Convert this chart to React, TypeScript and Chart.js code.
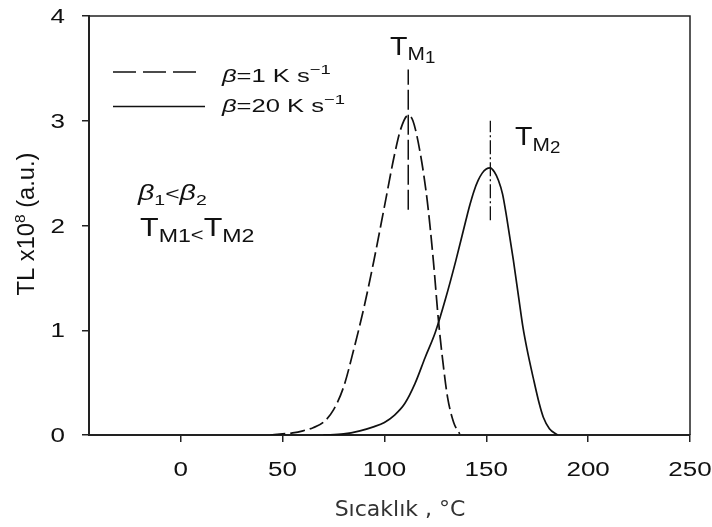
import React, { useEffect, useRef } from "react";
import { Chart, registerables } from "chart.js";
Chart.register(...registerables);

// ---- data ----
const xTicks = [0, 50, 100, 150, 200, 250];
const yTicks = [0, 1, 2, 3, 4];
const xMin = -45;
const xMax = 250;

// beta = 1 K/s (dashed)
const slowX = [44, 50, 55, 60, 65, 70, 75, 80, 85, 90, 95, 100, 105, 108, 111.6, 114, 117.6, 121, 124, 126.5, 129, 131, 134, 137];
const slowY = [0, 0.01, 0.02, 0.04, 0.07, 0.12, 0.24, 0.46, 0.82, 1.22, 1.68, 2.18, 2.68, 2.92, 3.05, 3.0, 2.69, 2.24, 1.67, 1.1, 0.65, 0.36, 0.12, 0.01];

// beta = 20 K/s (solid)
const fastX = [70, 80, 88, 95, 100, 105, 110, 115, 120, 125, 130, 135, 140, 142, 144, 146, 148, 150, 152, 154, 156, 158, 160, 163.3, 166, 168, 170, 173, 176, 178, 181, 185];
const fastY = [0, 0.01, 0.04, 0.08, 0.12, 0.19, 0.3, 0.49, 0.74, 0.98, 1.3, 1.66, 2.05, 2.2, 2.33, 2.43, 2.5, 2.54, 2.55, 2.51, 2.43, 2.3, 2.08, 1.67, 1.3, 1.03, 0.82, 0.55, 0.3, 0.17, 0.06, 0];

// peak markers
const tm1X = [111.7, 111.7];
const tm1Y = [2.15, 3.49];
const tm2X = [152, 152];
const tm2Y = [2.05, 3.0];

const yTitle = ["TL x10", "8", " (a.u.)"];
const xTitle = "Sıcaklık , °C";
const legend1 = ["β", "=1 K s", "−1"];
const legend2 = ["β", "=20 K s", "−1"];

const SANS = '"Liberation Sans", Arial, sans-serif';

type Run = { t: string; size: number; dy?: number; italic?: boolean };

function drawRuns(
  ctx: CanvasRenderingContext2D,
  x: number,
  y: number,
  runs: Run[],
  sx: number,
  align: "left" | "center" | "right" = "left",
  family: string = SANS,
  color: string = "#111"
) {
  ctx.save();
  ctx.fillStyle = color;
  ctx.textBaseline = "alphabetic";
  ctx.textAlign = "left";
  const widths = runs.map((r) => {
    ctx.font = `${r.italic ? "italic " : ""}${r.size}px ${family}`;
    return ctx.measureText(r.t).width;
  });
  const total = widths.reduce((a, b) => a + b, 0) * sx;
  const x0 = align === "center" ? x - total / 2 : align === "right" ? x - total : x;
  ctx.translate(x0, y);
  ctx.scale(sx, 1);
  let cx = 0;
  runs.forEach((r, i) => {
    ctx.font = `${r.italic ? "italic " : ""}${r.size}px ${family}`;
    ctx.fillText(r.t, cx, r.dy || 0);
    cx += widths[i];
  });
  ctx.restore();
}

const zip = (xs: number[], ys: number[]) => xs.map((x, i) => ({ x, y: ys[i] }));

const decorPlugin = {
  id: "decor",
  afterDraw(chart: any) {
    const ctx: CanvasRenderingContext2D = chart.ctx;
    const { left, right, top, bottom } = chart.chartArea;
    const xs = chart.scales.x;
    const ys = chart.scales.y;

    // frame top/right
    ctx.save();
    ctx.strokeStyle = "#222";
    ctx.lineWidth = 1.5;
    ctx.beginPath();
    ctx.moveTo(left, top);
    ctx.lineTo(right, top);
    ctx.lineTo(right, bottom);
    ctx.stroke();
    ctx.restore();

    // tick labels
    xTicks.forEach((v) => {
      drawRuns(ctx, xs.getPixelForValue(v), 476, [{ t: String(v), size: 20 }], 1.3, "center");
    });
    yTicks.forEach((v) => {
      drawRuns(ctx, 65, ys.getPixelForValue(v) + 7, [{ t: String(v), size: 20 }], 1.3, "right");
    });

    // y title (rotated)
    ctx.save();
    ctx.translate(34, 224);
    ctx.rotate(-Math.PI / 2);
    drawRuns(
      ctx,
      0,
      0,
      [
        { t: yTitle[0], size: 23 },
        { t: yTitle[1], size: 15, dy: -9 },
        { t: yTitle[2], size: 23 },
      ],
      1.03,
      "center"
    );
    ctx.restore();

    // x title
    drawRuns(ctx, 400, 516, [{ t: xTitle, size: 22 }], 1, "center", '"DejaVu Sans", sans-serif', "#333");

    // legend samples
    ctx.save();
    ctx.strokeStyle = "#111";
    ctx.lineWidth = 1.6;
    ctx.setLineDash([23, 7]);
    ctx.beginPath();
    ctx.moveTo(113, 72);
    ctx.lineTo(197, 72);
    ctx.stroke();
    ctx.setLineDash([]);
    ctx.beginPath();
    ctx.moveTo(113, 106.5);
    ctx.lineTo(205, 106.5);
    ctx.stroke();
    ctx.restore();

    drawRuns(
      ctx,
      222,
      82,
      [
        { t: legend1[0], size: 18, italic: true },
        { t: legend1[1], size: 18 },
        { t: legend1[2], size: 13, dy: -8 },
      ],
      1.42
    );
    drawRuns(
      ctx,
      222,
      112,
      [
        { t: legend2[0], size: 18, italic: true },
        { t: legend2[1], size: 18 },
        { t: legend2[2], size: 13, dy: -8 },
      ],
      1.42
    );

    // beta1 < beta2
    drawRuns(
      ctx,
      138,
      200,
      [
        { t: "β", size: 22, italic: true },
        { t: "1", size: 15, dy: 5 },
        { t: "<", size: 19 },
        { t: "β", size: 22, italic: true },
        { t: "2", size: 15, dy: 5 },
      ],
      1.3
    );
    // TM1 < TM2
    drawRuns(
      ctx,
      140,
      236,
      [
        { t: "T", size: 25 },
        { t: "M1", size: 19, dy: 6 },
        { t: "<", size: 18, dy: 5 },
        { t: "T", size: 25 },
        { t: "M2", size: 19, dy: 6 },
      ],
      1.22
    );

    // TM labels at peaks
    drawRuns(
      ctx,
      390,
      55,
      [
        { t: "T", size: 26 },
        { t: "M", size: 19, dy: 5 },
        { t: "1", size: 17, dy: 8 },
      ],
      1.1
    );
    drawRuns(
      ctx,
      515,
      145,
      [
        { t: "T", size: 26 },
        { t: "M", size: 19, dy: 6 },
        { t: "2", size: 17, dy: 8 },
      ],
      1.1
    );
  },
};

export default function App() {
  const ref = useRef<HTMLCanvasElement>(null);

  useEffect(() => {
    if (!ref.current) return;
    const chart = new Chart(ref.current, {
      type: "scatter",
      data: {
        datasets: [
          {
            data: zip(slowX, slowY),
            showLine: true,
            borderColor: "#111",
            borderWidth: 1.7,
            borderDash: [15, 5],
            pointRadius: 0,
            cubicInterpolationMode: "monotone",
          },
          {
            data: zip(fastX, fastY),
            showLine: true,
            borderColor: "#111",
            borderWidth: 1.7,
            pointRadius: 0,
            cubicInterpolationMode: "monotone",
          },
          {
            data: zip(tm1X, tm1Y),
            showLine: true,
            borderColor: "#111",
            borderWidth: 1.5,
            borderDash: [20, 5],
            pointRadius: 0,
          },
          {
            data: zip(tm2X, tm2Y),
            showLine: true,
            borderColor: "#111",
            borderWidth: 1.3,
            borderDash: [14, 3, 2, 3],
            pointRadius: 0,
          },
        ],
      } as any,
      options: {
        responsive: false,
        animation: false,
        layout: { padding: { top: 16, right: 22, left: 0, bottom: 0 } },
        plugins: { legend: { display: false }, tooltip: { enabled: false } },
        scales: {
          x: {
            type: "linear",
            min: xMin,
            max: xMax,
            afterBuildTicks: (s: any) => {
              s.ticks = xTicks.map((v) => ({ value: v }));
            },
            afterFit: (s: any) => {
              s.height = 92;
            },
            ticks: { display: false },
            grid: { drawOnChartArea: false, drawTicks: true, tickLength: 7, color: "#222", lineWidth: 1.5 },
            border: { display: true, color: "#222", width: 2 },
          },
          y: {
            type: "linear",
            min: 0,
            max: 4,
            afterBuildTicks: (s: any) => {
              s.ticks = yTicks.map((v) => ({ value: v }));
            },
            afterFit: (s: any) => {
              s.width = 89;
            },
            ticks: { display: false },
            grid: { drawOnChartArea: false, drawTicks: true, tickLength: 7, color: "#222", lineWidth: 1.5 },
            border: { display: true, color: "#222", width: 2 },
          },
        },
      } as any,
      plugins: [decorPlugin],
    });
    return () => chart.destroy();
  }, []);

  return (
    <div style={{ position: "fixed", left: 0, top: 0, width: 712, height: 527, background: "#fff" }}>
      <canvas ref={ref} width={712} height={527} />
    </div>
  );
}
